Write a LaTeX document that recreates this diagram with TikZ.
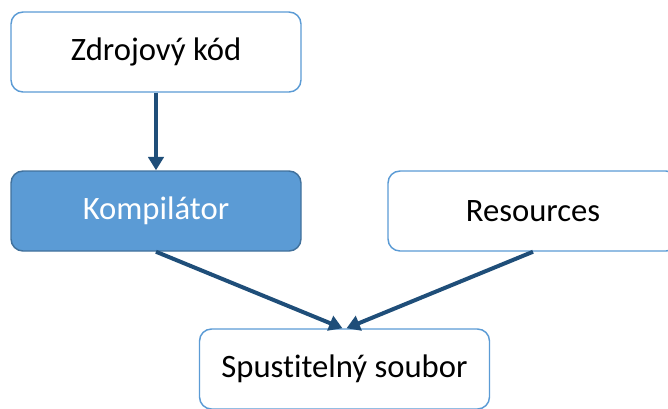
\documentclass[tikz,border=0pt]{standalone}
\usepackage{fontspec}
\setmainfont[Ligatures={NoCommon}]{Carlito}
\usetikzlibrary{arrows.meta}
\definecolor{boxline}{HTML}{5B9BD5}
\definecolor{accentfill}{HTML}{5B9BD5}
\definecolor{accentline}{HTML}{41719C}
\definecolor{flow}{HTML}{1F4E79}
\tikzset{
  stage/.style={draw=boxline, fill=white, line width=1.1pt, rounded corners=9pt,
    minimum width=217.5pt, minimum height=60pt, inner sep=0pt,
    font=\fontsize{24.5}{29}\selectfont, text=black},
  mainstage/.style={stage, draw=accentline, fill=accentfill, text=white},
  flowarrow/.style={draw=flow, line width=3pt,
    -{Triangle[length=10pt,width=11.5pt]}}
}
\begin{document}
\begin{tikzpicture}[x=0.75pt, y=-0.75pt]
  \useasboundingbox (0,0) rectangle (668,408);
  \clip (0,0) rectangle (668,408);
  \node[stage] (src) at (156,52) {Zdrojový kód};
  \node[mainstage] (comp) at (156,211) {Kompilátor};
  \node[stage] (res) at (533,211) {Resources};
  \node[stage] (exe) at (344.5,369) {Spustitelný soubor};
  \draw[flowarrow] (src.south) -- (comp.north);
  \draw[flowarrow] (comp.south) -- ([xshift=-1.5pt]exe.north);
  \draw[flowarrow] (res.south) -- ([xshift=1.5pt]exe.north);
\end{tikzpicture}
\end{document}
